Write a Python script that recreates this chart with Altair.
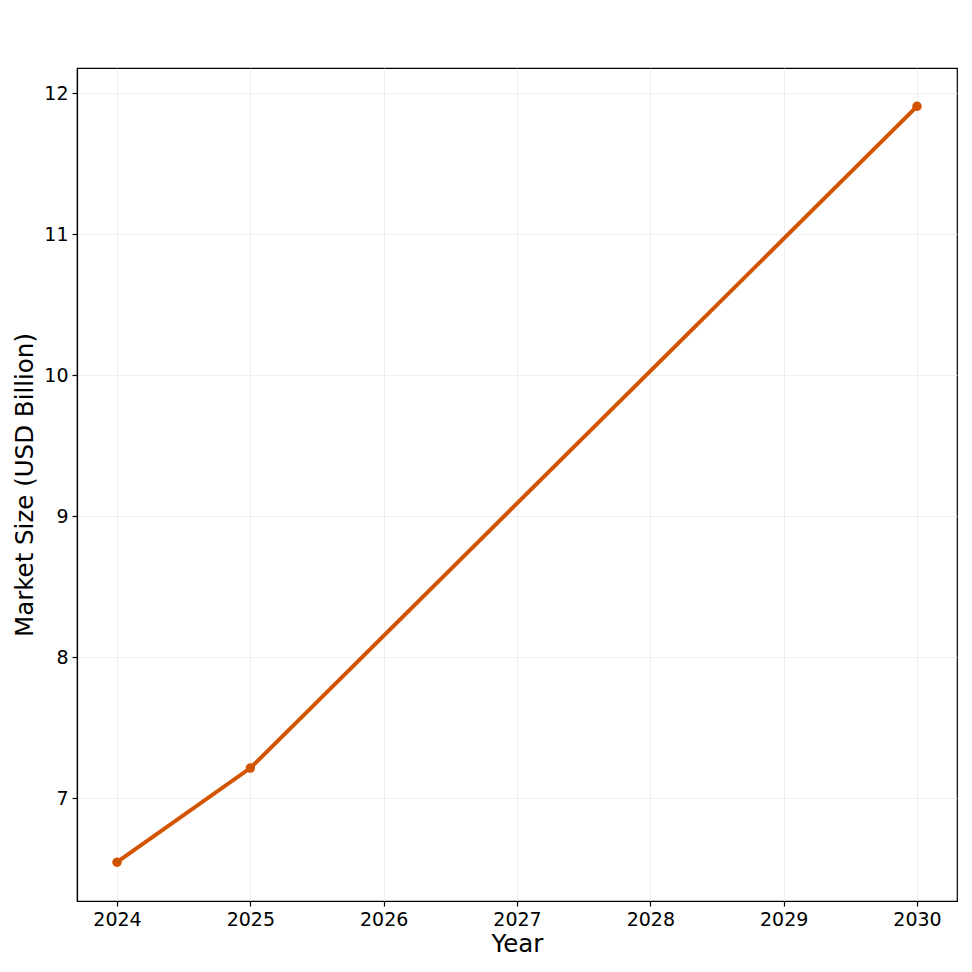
import altair as alt
import pandas as pd

years = [2024, 2025, 2030]
market_size = [6.545, 7.213, 11.908]

df = pd.DataFrame({"Year": years, "Market": market_size})

color = "#D35400"

x = alt.X("Year:Q",
          scale=alt.Scale(domain=[2023.7, 2030.3], nice=False, zero=False),
          axis=alt.Axis(title="Year", values=[2024, 2025, 2026, 2027, 2028, 2029, 2030], format="d",
                        titleY=43, titleBaseline="middle"))
y = alt.Y("Market:Q",
          scale=alt.Scale(domain=[6.27, 12.18], nice=False, zero=False),
          axis=alt.Axis(title="Market Size (USD Billion)", values=[7, 8, 9, 10, 11, 12],
                        titleX=-52, titleY=416.5, titleBaseline="middle", titleAlign="center"))

line = alt.Chart(df).mark_line(color=color, strokeWidth=4).encode(x=x, y=y)
pts = alt.Chart(df).mark_point(color=color, filled=True, size=90, opacity=1).encode(x=x, y=y)

chart = (line + pts).properties(
    width=880, height=833,
    autosize=alt.AutoSizeParams(type="none"),
    padding={"left": 69, "top": 60, "right": 7, "bottom": 63},
).configure_view(
    stroke="black", strokeWidth=1.2
).configure_axis(
    labelFont="DejaVu Sans", titleFont="DejaVu Sans",
    labelFontSize=19, titleFontSize=24.5, titleFontWeight="normal",
    labelColor="black", titleColor="black",
    domainColor="black", domainWidth=1.2,
    tickColor="black", tickSize=5, tickWidth=1.2,
    labelPadding=4,
    gridColor="#ebebeb", gridWidth=0.8,
)

chart.save("out.html", embed_options={"renderer": "svg", "actions": False})
